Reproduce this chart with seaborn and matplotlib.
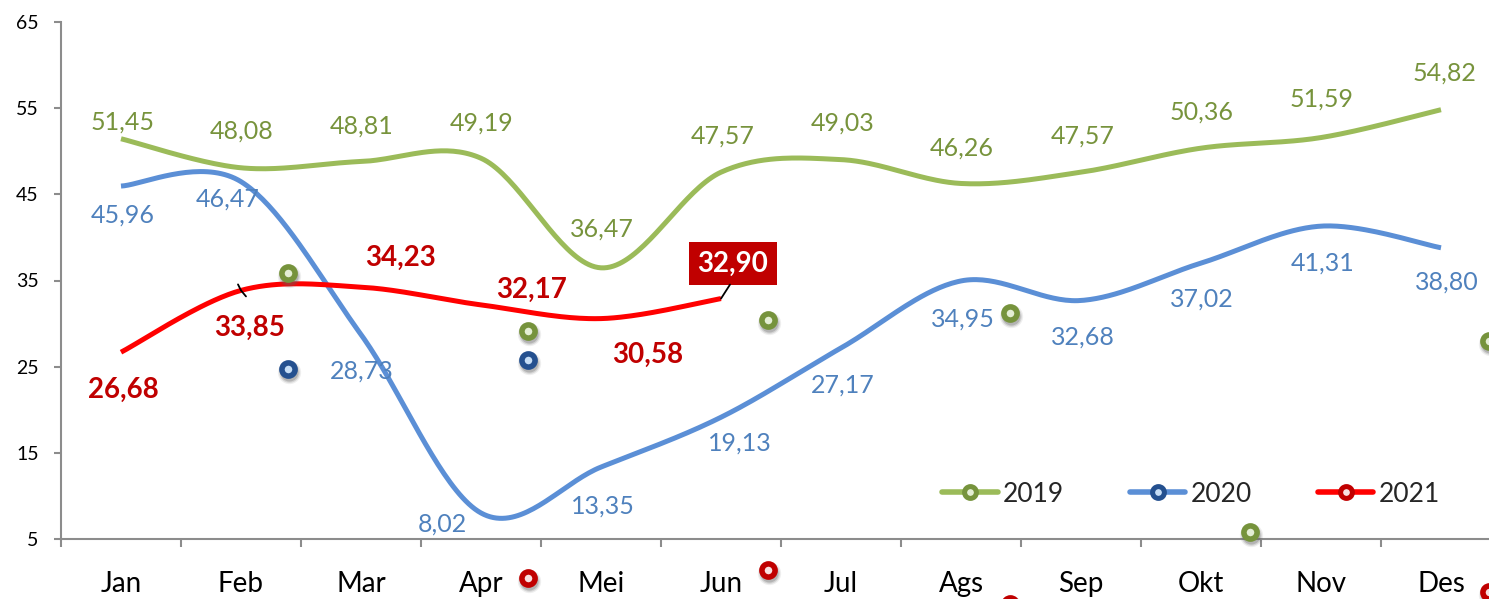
import numpy as np
import pandas as pd
import matplotlib
matplotlib.use("Agg")
import matplotlib.pyplot as plt
import seaborn as sns
from matplotlib.lines import Line2D

# ---------------- data ----------------
months = ['Jan', 'Feb', 'Mar', 'Apr', 'Mei', 'Jun', 'Jul', 'Ags', 'Sep', 'Okt', 'Nov', 'Des']
v2019 = [51.45, 48.08, 48.81, 49.19, 36.47, 47.57, 49.03, 46.26, 47.57, 50.36, 51.59, 54.82]
v2020 = [45.96, 46.47, 28.73, 8.02, 13.35, 19.13, 27.17, 34.95, 32.68, 37.02, 41.31, 38.80]
v2021 = [26.68, 33.85, 34.23, 32.17, 30.58, 32.90]
series_names = ['2019', '2020', '2021']
yticks = [5, 15, 25, 35, 45, 55, 65]

# stray (misplaced) markers seen in the picture: series, category position, value
stray_series = ['2019', '2020', '2019', '2020', '2021', '2019', '2021', '2019', '2021', '2019', '2019', '2021']
stray_pos = [1.39, 1.39, 3.39, 3.39, 3.39, 5.39, 5.39, 7.41, 7.41, 9.41, 11.40, 11.40]
stray_val = [35.87, 24.73, 29.14, 25.77, 0.47, 30.41, 1.40, 31.23, -2.5, 5.81, 27.98, -1.15]

# ---------------- style ----------------
line_col = {'2019': '#9BBB59', '2020': '#5B8FD6', '2021': '#FF0000'}
edge_col = {'2019': '#76933C', '2020': '#24508F', '2021': '#C00000'}
face_col = {'2019': '#E4EED4', '2020': '#C6DDF5', '2021': '#F8E0E0'}
lab_col = {'2019': '#77933C', '2020': '#4F81BD', '2021': '#C00000'}

# label offsets in pixels (dx right, dy down)
off2019 = [(2, -17), (1, -37), (1, -35), (1, -35), (1, -39), (2, -36), (2, -37), (1, -35), (2, -36), (1, -36), (1, -38), (3, -37)]
off2020 = [(2, 29), (-13, 17), (1, 37), (-39, 11), (2, 39), (19, 26), (2, 37), (2, 38), (2, 37), (1, 36), (2, 37), (6, 34)]
off2021 = [(2, 38), (9, 37), (40, -29), (51, -15), (47, 36), (12, -35)]

sns.set_theme(style="white")
plt.rcParams['font.family'] = ['Lato', 'DejaVu Sans']

W, H = 1489, 599
fig = plt.figure(figsize=(W / 100, H / 100), dpi=100)
ax = fig.add_axes([61 / W, 60 / H, 1440 / W, 517 / H])
ax.set_xlim(-0.5, 11.5)
ax.set_ylim(5, 65)


def smooth(vals, n=40):
    """Catmull-Rom (Excel-like) smoothing for display."""
    x = np.arange(len(vals), dtype=float)
    y = np.asarray(vals, dtype=float)
    P = np.column_stack([x, y])
    P = np.vstack([P[0], P, P[-1]])
    out = []
    t = np.linspace(0, 1, n)
    for i in range(1, len(P) - 2):
        p0, p1, p2, p3 = P[i - 1], P[i], P[i + 1], P[i + 2]
        m1 = (p2 - p0) / 2
        m2 = (p3 - p1) / 2
        h00 = 2 * t**3 - 3 * t**2 + 1
        h10 = t**3 - 2 * t**2 + t
        h01 = -2 * t**3 + 3 * t**2
        h11 = t**3 - t**2
        seg = (np.outer(h00, p1) + np.outer(h10, m1) + np.outer(h01, p2) + np.outer(h11, m2))
        out.append(seg if i == 1 else seg[1:])
    return np.vstack(out)


all_vals = {'2019': v2019, '2020': v2020, '2021': v2021}
for name in series_names:
    c = smooth(all_vals[name])
    df = pd.DataFrame({'x': c[:, 0], 'y': c[:, 1]})
    sns.lineplot(data=df, x='x', y='y', sort=False, estimator=None, ax=ax,
                 color=line_col[name], lw=3.6, solid_capstyle='butt', zorder=3)

# stray markers with soft shadow (shadow shifted a few pixels down-right)
px_x = 1.0 / 120.0      # one pixel in category units
px_y = 60.0 / 517.0     # one pixel in value units
sdf = pd.DataFrame({'s': stray_series, 'x': stray_pos, 'y': stray_val})
for name in series_names:
    sub = sdf[sdf.s == name]
    for a, sz in ((0.10, 280), (0.18, 220), (0.28, 170)):
        ax.scatter(sub.x + 1.0 * px_x, sub.y - 3.0 * px_y, s=sz, color='#606060', alpha=a,
                   lw=0, zorder=4, clip_on=False)
    sns.scatterplot(data=sub, x='x', y='y', ax=ax, s=90, color=face_col[name],
                    edgecolor=edge_col[name], linewidth=4.0, zorder=5, clip_on=False, legend=False)

# data labels
for name, offs in (('2019', off2019), ('2020', off2020)):
    for i, (v, (dx, dy)) in enumerate(zip(all_vals[name], offs)):
        ax.annotate(f"{v:.2f}".replace('.', ','), xy=(i, v), xytext=(dx, -dy),
                    textcoords='offset pixels', ha='center', va='center',
                    fontsize=18, color=lab_col[name], zorder=6)
for i, (v, (dx, dy)) in enumerate(zip(v2021, off2021)):
    txt = f"{v:.2f}".replace('.', ',')
    if i == len(v2021) - 1:
        ax.annotate(txt, xy=(i, v), xytext=(dx, -dy), textcoords='offset pixels',
                    ha='center', va='center', fontsize=20, fontweight='bold', color='white',
                    bbox=dict(boxstyle='square,pad=0.3', fc='#C00000', ec='none'), zorder=6)
        ax.annotate('', xy=(i, v), xytext=(9, 14), textcoords='offset pixels',
                    arrowprops=dict(arrowstyle='-', color='black', lw=1.3, shrinkA=0, shrinkB=0), zorder=6)
    else:
        ax.annotate(txt, xy=(i, v), xytext=(dx, -dy), textcoords='offset pixels',
                    ha='center', va='center', fontsize=20, fontweight='bold',
                    color=lab_col['2021'], zorder=6)
# small leader at Feb 2021
ax.annotate('', xy=(1, v2021[1]), xytext=(5, -6), textcoords='offset pixels',
            arrowprops=dict(arrowstyle='-', color='black', lw=1.3, shrinkA=0, shrinkB=0), zorder=6)
ax.annotate('', xy=(1, v2021[1]), xytext=(-3, 6), textcoords='offset pixels',
            arrowprops=dict(arrowstyle='-', color='black', lw=1.3, shrinkA=0, shrinkB=0), zorder=6)

# axes
ax.set_xlim(-0.5, 11.5)
ax.set_ylim(5, 65)
ax.set_yticks(yticks)
ax.set_yticklabels([str(t) for t in yticks])
ax.set_xticks(np.arange(-0.5, 12, 1))
ax.set_xticklabels([])
ax.set_xticks(np.arange(12), minor=True)
ax.set_xticklabels(months, minor=True)
ax.set_xlabel('')
ax.set_ylabel('')
for s in ('top', 'right'):
    ax.spines[s].set_visible(False)
for s in ('left', 'bottom'):
    ax.spines[s].set_color('#8c8c8c')
    ax.spines[s].set_linewidth(1.5)
ax.tick_params(axis='y', which='major', direction='out', length=5, width=1.5, color='#8c8c8c',
               labelsize=14, labelcolor='black', pad=11, left=True)
ax.tick_params(axis='x', which='major', direction='out', length=6, width=1.5, color='#8c8c8c', bottom=True)
ax.tick_params(axis='x', which='minor', length=0, labelsize=20, labelcolor='black', pad=23)
ax.grid(False)

# legend
handles = [Line2D([0], [0], color=line_col[n], lw=4, marker='o', markersize=8.5,
                  markerfacecolor=face_col[n], markeredgecolor=edge_col[n], markeredgewidth=3.6)
           for n in series_names]
ax.legend(handles, series_names, ncol=3, loc='center', bbox_to_anchor=(1191 / W, (599 - 494) / H),
          bbox_transform=fig.transFigure, frameon=False, fontsize=19, handlelength=2.1,
          handletextpad=0.2, columnspacing=2.5, borderpad=0, borderaxespad=0)

fig.savefig('out.png', dpi=100)
